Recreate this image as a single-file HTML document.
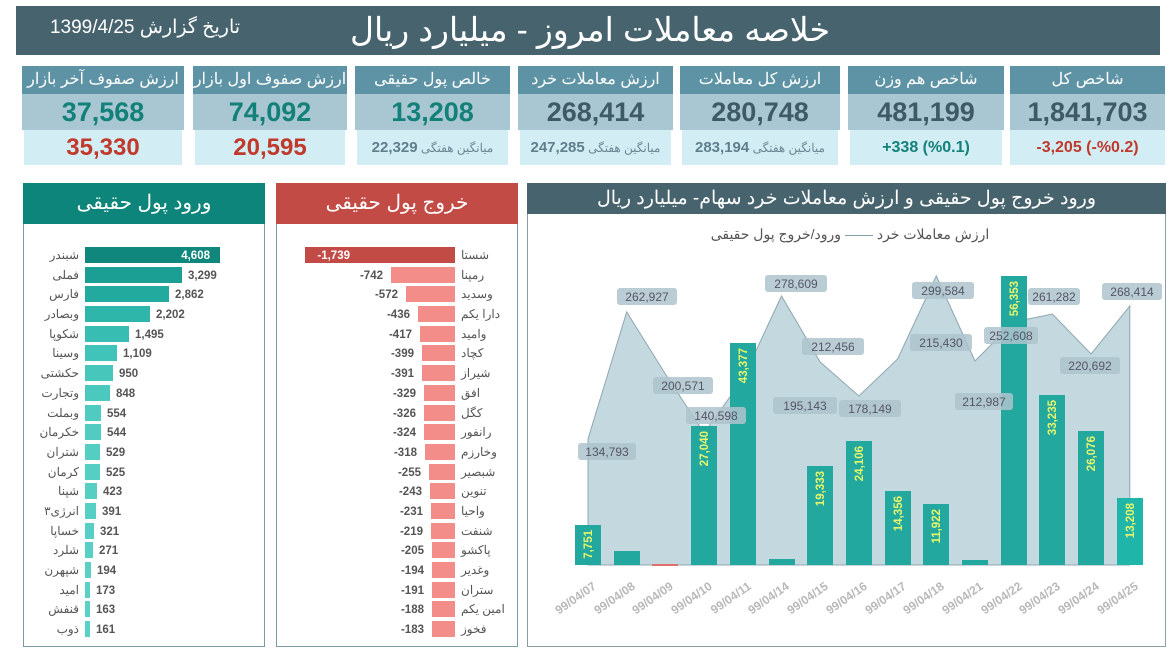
<!DOCTYPE html>
<html><head><meta charset="utf-8"><style>
*{margin:0;padding:0;box-sizing:border-box}
body{width:1175px;height:658px;background:#fff;position:relative;overflow:hidden;font-family:"Liberation Sans","Noto Sans CJK SC",sans-serif}
.a{position:absolute}
.hd{position:absolute;background:#5d93a5;color:#fff;font-size:16px;text-align:center;line-height:27px;direction:rtl}
.vr{position:absolute;background:#a8c7d2;font-weight:bold;font-size:27px;text-align:center;line-height:36px}
.br{position:absolute;background:#d3edf5;text-align:center;line-height:35px;direction:rtl;color:#6b8793;font-size:12px}
.br b{font-size:15px;color:#5e7f8b}
</style></head><body>
<div class="a" style="left:16px;top:6px;width:1144px;height:49px;background:#47646e"></div>
<div class="a" style="left:310px;top:7px;width:560px;text-align:center;color:#fff;font-size:33px;line-height:46px;direction:rtl">خلاصه معاملات امروز - میلیارد ریال</div>
<div class="a" style="left:35px;top:14px;width:220px;color:#fff;font-size:19px;line-height:28px;direction:rtl;text-align:center">تاریخ گزارش 1399/4/25</div>

<div class="hd" style="left:22px;top:66px;width:162px;height:28px">ارزش صفوف آخر بازار</div>
<div class="vr" style="left:22px;top:94px;width:162px;height:36px;color:#13807a">37,568</div>
<div class="br" style="left:24px;top:130px;width:158px;height:35px;color:#c0392b;font-size:24px;font-weight:bold">35,330</div>

<div class="hd" style="left:193px;top:66px;width:154px;height:28px">ارزش صفوف اول بازار</div>
<div class="vr" style="left:193px;top:94px;width:154px;height:36px;color:#13807a">74,092</div>
<div class="br" style="left:195px;top:130px;width:150px;height:35px;color:#c0392b;font-size:24px;font-weight:bold">20,595</div>

<div class="hd" style="left:355px;top:66px;width:155px;height:28px">خالص پول حقیقی</div>
<div class="vr" style="left:355px;top:94px;width:155px;height:36px;color:#13807a">13,208</div>
<div class="br" style="left:357px;top:130px;width:151px;height:35px">میانگین هفتگی <b>22,329</b></div>

<div class="hd" style="left:518px;top:66px;width:155px;height:28px">ارزش معاملات خرد</div>
<div class="vr" style="left:518px;top:94px;width:155px;height:36px;color:#3e5a66">268,414</div>
<div class="br" style="left:520px;top:130px;width:151px;height:35px">میانگین هفتگی <b>247,285</b></div>

<div class="hd" style="left:680px;top:66px;width:160px;height:28px">ارزش کل معاملات</div>
<div class="vr" style="left:680px;top:94px;width:160px;height:36px;color:#3e5a66">280,748</div>
<div class="br" style="left:682px;top:130px;width:156px;height:35px">میانگین هفتگی <b>283,194</b></div>

<div class="hd" style="left:848px;top:66px;width:156px;height:28px">شاخص هم وزن</div>
<div class="vr" style="left:848px;top:94px;width:156px;height:36px;color:#3e5a66">481,199</div>
<div class="br" style="left:850px;top:130px;width:152px;height:35px;direction:ltr;color:#13807a;font-size:16px;font-weight:bold">+338 (%0.1)</div>

<div class="hd" style="left:1010px;top:66px;width:155px;height:28px">شاخص کل</div>
<div class="vr" style="left:1010px;top:94px;width:155px;height:36px;color:#3e5a66">1,841,703</div>
<div class="br" style="left:1010px;top:130px;width:155px;height:35px;direction:ltr;color:#c0392b;font-size:16px;font-weight:bold">-3,205 (-%0.2)</div>

<div class="a" style="left:23px;top:183px;width:242px;height:464px;border:1px solid #7a9aa5"></div>
<div class="a" style="left:23px;top:183px;width:242px;height:41px;background:#0e857a;color:#fff;font-size:20px;text-align:center;line-height:40px;direction:rtl">ورود پول حقیقی</div>
<div class="a" style="left:276px;top:183px;width:242px;height:464px;border:1px solid #7a9aa5"></div>
<div class="a" style="left:276px;top:183px;width:242px;height:41px;background:#c24b45;color:#fff;font-size:20px;text-align:center;line-height:40px;direction:rtl">خروج پول حقیقی</div>

<div class="a" style="left:527px;top:183px;width:639px;height:464px;border:1px solid #8a9ea5"></div>
<div class="a" style="left:527px;top:183px;width:639px;height:31px;background:#47646e;color:#fff;font-size:19px;text-align:center;line-height:31px;direction:rtl">ورود خروج پول حقیقی و ارزش معاملات خرد سهام- میلیارد ریال</div>
<div class="a" style="left:650px;top:226px;width:400px;text-align:center;color:#555;font-size:14px;direction:rtl">ارزش معاملات خرد <span style="color:#7a9aa5">——</span> ورود/خروج پول حقیقی</div>

<svg class="a" style="left:0;top:0" width="1175" height="658" font-family="Liberation Sans, sans-serif">
<polygon fill="#c3d8df" stroke="#8fa7b0" stroke-width="1" points="588,565 588,439 626.7,312 665.4,374 704.1,433 742.8,379 781.5,296 820.2,362 858.9,396 897.6,359 936.3,276 975,361 1013.7,322 1052.4,314 1091.1,354 1129.8,306 1129.8,565"/>
<g fill="#22a89f">
<rect x="575" y="525" width="26" height="40"/>
<rect x="614" y="551" width="26" height="14"/>
<rect x="652" y="564" width="26" height="2" fill="#e07070"/>
<rect x="691" y="426" width="26" height="139"/>
<rect x="730" y="343" width="26" height="222"/>
<rect x="769" y="559" width="26" height="6"/>
<rect x="807" y="466" width="26" height="99"/>
<rect x="846" y="441" width="26" height="124"/>
<rect x="885" y="491" width="26" height="74"/>
<rect x="923" y="504" width="26" height="61"/>
<rect x="962" y="560" width="26" height="5"/>
<rect x="1001" y="276" width="26" height="289"/>
<rect x="1039" y="395" width="26" height="170"/>
<rect x="1078" y="431" width="26" height="134"/>
<rect x="1117" y="498" width="26" height="67" fill="#1fb5a8"/>
</g>
<g fill="#e6f56a" font-size="11.5" font-weight="bold" text-anchor="end">
<text transform="translate(592,530) rotate(-90)">7,751</text>
<text transform="translate(708,431) rotate(-90)">27,040</text>
<text transform="translate(747,348) rotate(-90)">43,377</text>
<text transform="translate(824,471) rotate(-90)">19,333</text>
<text transform="translate(863,446) rotate(-90)">24,106</text>
<text transform="translate(902,496) rotate(-90)">14,356</text>
<text transform="translate(940,509) rotate(-90)">11,922</text>
<text transform="translate(1018,281) rotate(-90)">56,353</text>
<text transform="translate(1056,400) rotate(-90)">33,235</text>
<text transform="translate(1095,436) rotate(-90)">26,076</text>
<text transform="translate(1134,503) rotate(-90)">13,208</text>
</g>
<g font-size="12" fill="#556">
<g fill="#aec4cc" fill-opacity="0.85">
<rect x="578" y="443" width="58" height="17" rx="3"/>
<rect x="617" y="288" width="60" height="17" rx="3"/>
<rect x="653" y="377" width="60" height="17" rx="3"/>
<rect x="686" y="407" width="60" height="17" rx="3"/>
<rect x="773" y="397" width="64" height="17" rx="3"/>
<rect x="765" y="275" width="62" height="17" rx="3"/>
<rect x="802" y="338" width="62" height="17" rx="3"/>
<rect x="839" y="400" width="62" height="17" rx="3"/>
<rect x="910" y="334" width="62" height="17" rx="3"/>
<rect x="912" y="282" width="62" height="17" rx="3"/>
<rect x="955" y="393" width="58" height="17" rx="3"/>
<rect x="984" y="327" width="54" height="17" rx="3"/>
<rect x="1028" y="288" width="52" height="17" rx="3"/>
<rect x="1060" y="357" width="60" height="17" rx="3"/>
<rect x="1102" y="283" width="60" height="17" rx="3"/>
</g>
<text x="607" y="456" text-anchor="middle">134,793</text>
<text x="647" y="301" text-anchor="middle">262,927</text>
<text x="683" y="390" text-anchor="middle">200,571</text>
<text x="716" y="420" text-anchor="middle">140,598</text>
<text x="805" y="410" text-anchor="middle">195,143</text>
<text x="796" y="288" text-anchor="middle">278,609</text>
<text x="833" y="351" text-anchor="middle">212,456</text>
<text x="870" y="413" text-anchor="middle">178,149</text>
<text x="941" y="347" text-anchor="middle">215,430</text>
<text x="943" y="295" text-anchor="middle">299,584</text>
<text x="984" y="406" text-anchor="middle">212,987</text>
<text x="1011" y="340" text-anchor="middle">252,608</text>
<text x="1054" y="301" text-anchor="middle">261,282</text>
<text x="1090" y="370" text-anchor="middle">220,692</text>
<text x="1132" y="296" text-anchor="middle">268,414</text>
</g>
<g fill="#b8b8b8" font-size="12" font-weight="bold" text-anchor="end">
<text transform="translate(597,588) rotate(-35)">99/04/07</text>
<text transform="translate(636,588) rotate(-35)">99/04/08</text>
<text transform="translate(674,588) rotate(-35)">99/04/09</text>
<text transform="translate(713,588) rotate(-35)">99/04/10</text>
<text transform="translate(752,588) rotate(-35)">99/04/11</text>
<text transform="translate(790,588) rotate(-35)">99/04/14</text>
<text transform="translate(829,588) rotate(-35)">99/04/15</text>
<text transform="translate(868,588) rotate(-35)">99/04/16</text>
<text transform="translate(907,588) rotate(-35)">99/04/17</text>
<text transform="translate(945,588) rotate(-35)">99/04/18</text>
<text transform="translate(984,588) rotate(-35)">99/04/21</text>
<text transform="translate(1023,588) rotate(-35)">99/04/22</text>
<text transform="translate(1061,588) rotate(-35)">99/04/23</text>
<text transform="translate(1100,588) rotate(-35)">99/04/24</text>
<text transform="translate(1139,588) rotate(-35)">99/04/25</text>
</g>

<g>
<rect x="85" y="247" width="135" height="16" fill="#0f877c"/>
<rect x="85" y="267" width="97" height="16" fill="#1b9f94"/>
<rect x="85" y="286" width="84" height="16" fill="#23aa9f"/>
<rect x="85" y="306" width="65" height="16" fill="#2fb6ab"/>
<rect x="85" y="326" width="44" height="16" fill="#38bdb2"/>
<rect x="85" y="345" width="32" height="16" fill="#40c3b8"/>
<rect x="85" y="365" width="28" height="16" fill="#47c6bc"/>
<rect x="85" y="385" width="25" height="16" fill="#4cc9bf"/>
<rect x="85" y="405" width="16" height="16" fill="#50cbc1"/>
<rect x="85" y="424" width="16" height="16" fill="#52ccc2"/>
<rect x="85" y="444" width="15" height="16" fill="#54cdc3"/>
<rect x="85" y="464" width="15" height="16" fill="#55cec4"/>
<rect x="85" y="483" width="12" height="16" fill="#56cec4"/>
<rect x="85" y="503" width="11" height="16" fill="#57cfc5"/>
<rect x="85" y="523" width="9" height="16" fill="#58cfc5"/>
<rect x="85" y="542" width="8" height="16" fill="#59d0c6"/>
<rect x="85" y="562" width="6" height="16" fill="#5ad0c6"/>
<rect x="85" y="582" width="5" height="16" fill="#5bd0c6"/>
<rect x="85" y="601" width="5" height="16" fill="#5bd0c6"/>
<rect x="85" y="621" width="5" height="16" fill="#5bd0c6"/>
</g>
<g font-size="11.5" font-weight="bold" fill="#555">
<text x="210" y="259" text-anchor="end" fill="#fff">4,608</text>
<text x="188" y="279">3,299</text>
<text x="175" y="298">2,862</text>
<text x="156" y="318">2,202</text>
<text x="135" y="338">1,495</text>
<text x="123" y="357">1,109</text>
<text x="119" y="377">950</text>
<text x="116" y="397">848</text>
<text x="107" y="417">554</text>
<text x="107" y="436">544</text>
<text x="106" y="456">529</text>
<text x="106" y="476">525</text>
<text x="103" y="495">423</text>
<text x="102" y="515">391</text>
<text x="100" y="535">321</text>
<text x="99" y="554">271</text>
<text x="97" y="574">194</text>
<text x="96" y="594">173</text>
<text x="96" y="613">163</text>
<text x="96" y="633">161</text>
</g>
<g font-size="12" fill="#555" text-anchor="end">
<text x="79" y="259">شبندر</text><text x="79" y="279">فملی</text><text x="79" y="298">فارس</text><text x="79" y="318">وبصادر</text><text x="79" y="338">شکوپا</text><text x="79" y="357">وسینا</text><text x="79" y="377">حکشتی</text><text x="79" y="397">وتجارت</text><text x="79" y="417">وبملت</text><text x="79" y="436">خکرمان</text><text x="79" y="456">شتران</text><text x="79" y="476">کرمان</text><text x="79" y="495">شپنا</text><text x="79" y="515">انرژی۳</text><text x="79" y="535">خساپا</text><text x="79" y="554">شلرد</text><text x="79" y="574">شپهرن</text><text x="79" y="594">امید</text><text x="79" y="613">قنفش</text><text x="79" y="633">ذوب</text>
</g>

<g fill="#f28d8a">
<rect x="305" y="247" width="150" height="16" fill="#c24b45"/>
<rect x="391" y="267" width="64" height="16"/>
<rect x="406" y="286" width="49" height="16"/>
<rect x="418" y="306" width="37" height="16"/>
<rect x="420" y="326" width="35" height="16"/>
<rect x="422" y="345" width="33" height="16"/>
<rect x="422" y="365" width="33" height="16"/>
<rect x="424" y="385" width="31" height="16"/>
<rect x="424" y="405" width="31" height="16"/>
<rect x="424" y="424" width="31" height="16"/>
<rect x="425" y="444" width="30" height="16"/>
<rect x="429" y="464" width="26" height="16"/>
<rect x="430" y="483" width="25" height="16"/>
<rect x="431" y="503" width="24" height="16"/>
<rect x="431" y="523" width="24" height="16"/>
<rect x="432" y="542" width="23" height="16"/>
<rect x="432" y="562" width="23" height="16"/>
<rect x="432" y="582" width="23" height="16"/>
<rect x="432" y="601" width="23" height="16"/>
<rect x="432" y="621" width="23" height="16"/>
</g>
<g font-size="11.5" font-weight="bold" fill="#555" text-anchor="end">
<text x="350" y="259" fill="#fff">-1,739</text>
<text x="383" y="279">-742</text>
<text x="398" y="298">-572</text>
<text x="410" y="318">-436</text>
<text x="412" y="338">-417</text>
<text x="414" y="357">-399</text>
<text x="414" y="377">-391</text>
<text x="416" y="397">-329</text>
<text x="416" y="417">-326</text>
<text x="416" y="436">-324</text>
<text x="417" y="456">-318</text>
<text x="421" y="476">-255</text>
<text x="422" y="495">-243</text>
<text x="423" y="515">-231</text>
<text x="423" y="535">-219</text>
<text x="424" y="554">-205</text>
<text x="424" y="574">-194</text>
<text x="424" y="594">-191</text>
<text x="424" y="613">-188</text>
<text x="424" y="633">-183</text>
</g>
<g font-size="12" fill="#555" text-anchor="start">
<text x="461" y="259">شستا</text><text x="461" y="279">رمپنا</text><text x="461" y="298">وسدید</text><text x="461" y="318">دارا یکم</text><text x="461" y="338">وامید</text><text x="461" y="357">کچاد</text><text x="461" y="377">شیراز</text><text x="461" y="397">افق</text><text x="461" y="417">کگل</text><text x="461" y="436">رانفور</text><text x="461" y="456">وخارزم</text><text x="461" y="476">شبصیر</text><text x="461" y="495">تنوین</text><text x="461" y="515">واحیا</text><text x="461" y="535">شنفت</text><text x="461" y="554">پاکشو</text><text x="461" y="574">وغدیر</text><text x="461" y="594">ستران</text><text x="461" y="613">امین یکم</text><text x="461" y="633">فخوز</text>
</g>
</svg>
</body></html>
